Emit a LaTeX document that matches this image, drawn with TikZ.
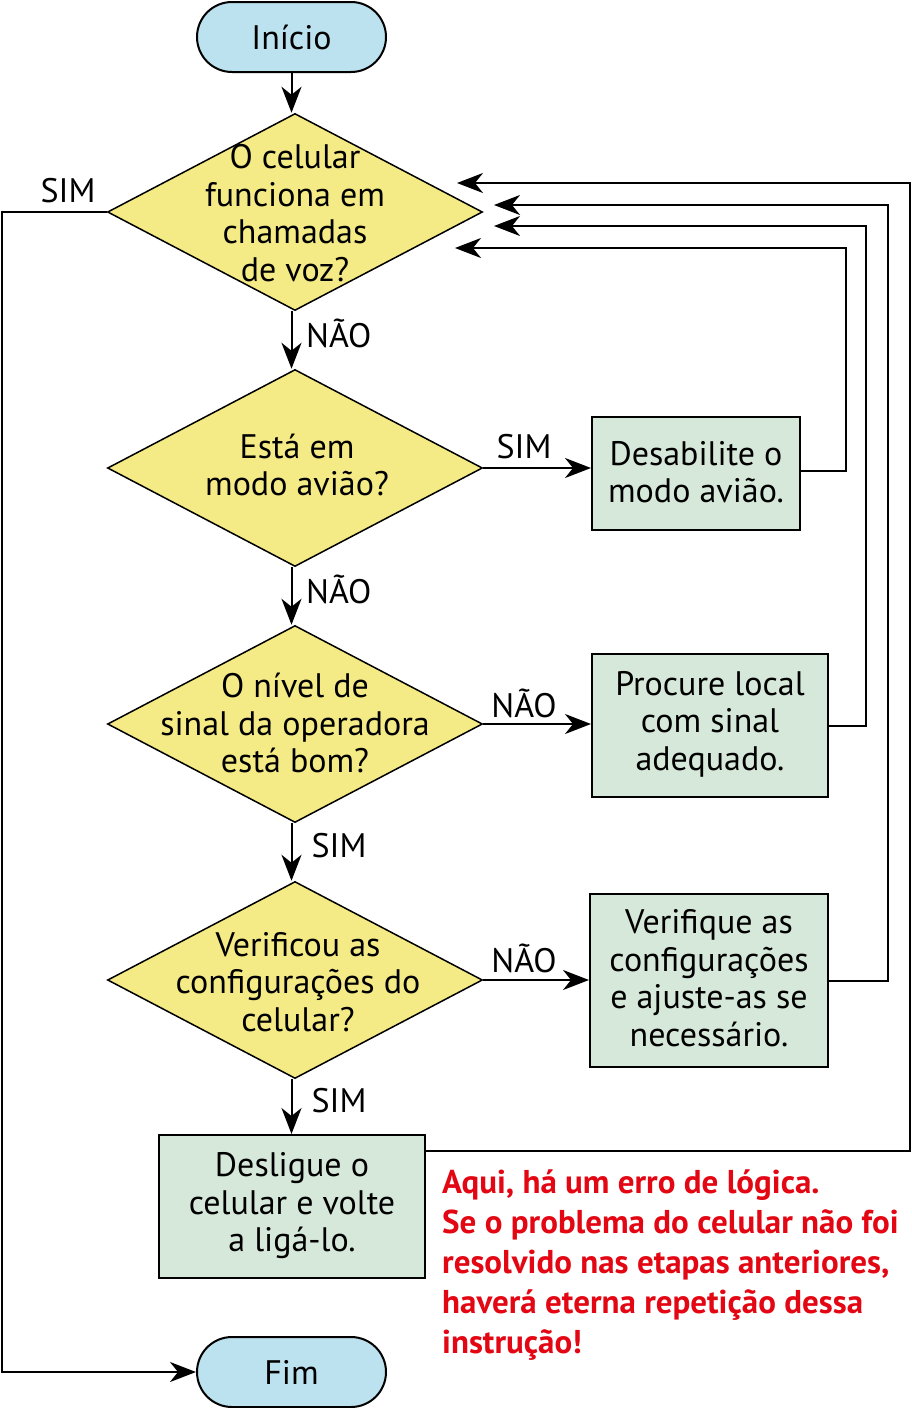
\documentclass[tikz,border=0pt]{standalone}
\usepackage{fontspec}
\setmainfont{PT Sans}
\usetikzlibrary{shapes.geometric,arrows.meta}
\definecolor{pillblue}{HTML}{BCE2EF}
\definecolor{diayel}{HTML}{F4EA86}
\definecolor{boxgreen}{HTML}{D6E8D9}
\definecolor{errred}{HTML}{E30613}
\tikzset{
  base/.style={font=\fontsize{34}{37.5}\selectfont},
  pill/.style={draw, line width=2pt, fill=pillblue, rounded corners=35pt, minimum width=189pt, minimum height=70pt, inner sep=0pt},
  dia/.style={draw, line width=1.5pt, fill=diayel, diamond, minimum width=375pt, minimum height=197pt, inner sep=0pt},
  dtext/.style={align=center, inner sep=0pt},
  act/.style={draw, line width=2pt, fill=boxgreen, inner sep=0pt},
  arr/.style={line width=2pt, -{Stealth[length=26pt,width=20pt,inset=8pt]}},
  lab/.style={inner sep=0pt},
}
\begin{document}
\begin{tikzpicture}[x=1pt,y=-1pt,base]
\useasboundingbox (0,0) rectangle (912,1408);
% terminals
\node[pill] (ini) at (291.5,37) {Início};
\node[pill] (fim) at (291.5,1372) {Fim};
% decisions
\node[dia] (d1) at (295,212) {};
\node[dtext] (d1t) at (295,213) {O celular\\funciona em\\chamadas\\de voz?};
\node[dia] (d2) at (295,468) {};
\node[dtext] (d2t) at (297,465) {Está em\\modo avião?};
\node[dia] (d3) at (295,724) {};
\node[dtext] (d3t) at (295,723) {O nível de\\sinal da operadora\\está bom?};
\node[dia] (d4) at (295,980) {};
\node[dtext] (d4t) at (298,982) {Verificou as\\configurações do\\celular?};
% actions
\node[act, minimum width=208pt, minimum height=113pt] (b1) at (696,473.5) {};
\node[dtext] (b1t) at (696,472) {Desabilite o\\modo avião.};
\node[act, minimum width=236pt, minimum height=143pt] (b2) at (710,725.5) {};
\node[dtext] (b2t) at (710,724) {Procure local\\com sinal\\adequado.};
\node[act, minimum width=238pt, minimum height=173pt] (b3) at (709,980.5) {};
\node[dtext] (b3t) at (709,978) {Verifique as\\configurações\\e ajuste-as se\\necessário.};
\node[act, minimum width=266pt, minimum height=143pt] (b4) at (292,1206.5) {};
\node[dtext] (b4t) at (292,1206) {Desligue o\\celular e volte\\a ligá-lo.};
% main flow
\draw[arr] (ini.south) -- (ini.south |- d1.north);
\draw[arr] (ini.south |- d1.south) -- (ini.south |- d2.north);
\draw[arr] (ini.south |- d2.south) -- (ini.south |- d3.north);
\draw[arr] (ini.south |- d3.south) -- (ini.south |- d4.north);
\draw[arr] (ini.south |- d4.south) -- (ini.south |- b4.north);
\draw[arr] (d2.east) -- (b1.west |- d2.east);
\draw[arr] (d3.east) -- (b2.west |- d3.east);
\draw[arr] (d4.east) -- (b3.west |- d4.east);
% SIM to Fim
\coordinate (lc) at (2,212);
\draw[arr] (d1.west) -- (lc) |- (fim.west);
% loops back
\coordinate (t1) at (455,248);
\coordinate (t2) at (494,226);
\coordinate (t3) at (494,205);
\coordinate (t4) at (457,183);
\coordinate (b4o) at (425,1151);
\draw[arr] (b1.east |- 0,471) -| (846,248) -- (t1);
\draw[arr] (b2.east) -| (866,226) -- (t2);
\draw[arr] (b3.east) -| (888,205) -- (t3);
\draw[arr] (b4o) -| (910,183) -- (t4);
% labels
\node[lab] (l1) at (68,191) {SIM};
\node[lab, anchor=west] (l2) at (306,333) {NÃO};
\node[lab] (l3) at (524,447) {SIM};
\node[lab, anchor=west] (l4) at (306,589) {NÃO};
\node[lab] (l5) at (524,703) {NÃO};
\node[lab] (l6) at (339,846) {SIM};
\node[lab] (l7) at (524,958) {NÃO};
\node[lab] (l8) at (339,1101) {SIM};
% note
\node[anchor=north west, align=left, inner sep=0pt, text=errred, font=\fontsize{33}{40}\selectfont\bfseries] (note) at (442,1170)
 {Aqui, há um erro de lógica.\\Se o problema do celular não foi\\resolvido nas etapas anteriores,\\haverá eterna repetição dessa\\instrução!};
\end{tikzpicture}
\end{document}
